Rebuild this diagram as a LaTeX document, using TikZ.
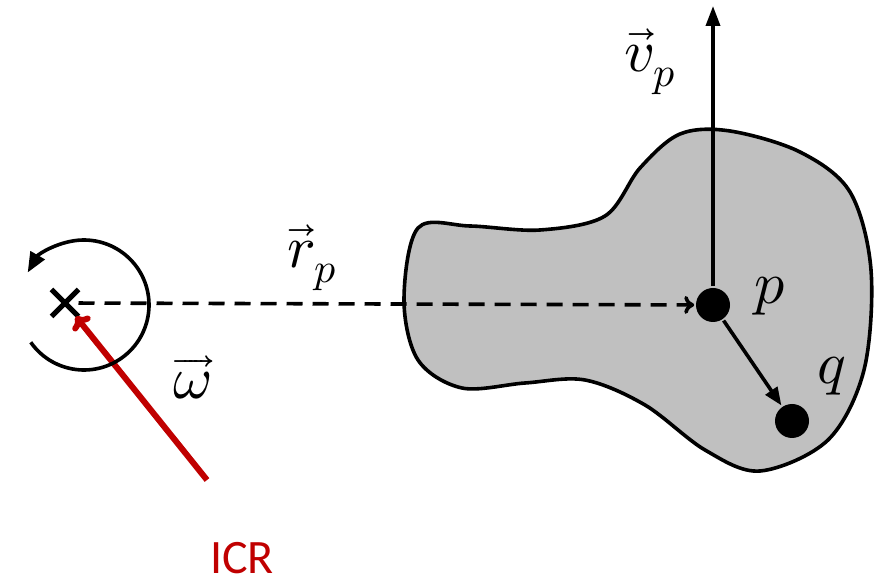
\documentclass[tikz,border=0pt]{standalone}
\usepackage{unicode-math}
\setmathfont{Latin Modern Math}
\newfontfamily\icrfont{Carlito}
\usetikzlibrary{arrows.meta,shapes.misc,positioning}
\definecolor{bodygray}{RGB}{192,192,192}
\definecolor{icrred}{RGB}{192,0,0}

\begin{document}
\begin{tikzpicture}[x=0.5pt,y=-0.5pt,line width=1.8pt,font=\fontsize{30}{36}\selectfont]
\useasboundingbox (0,0) rectangle (877,581);
% rigid body
\draw[fill=bodygray] plot[smooth cycle,tension=0.55] coordinates {
  (418,228) (470,226) (540,230) (605,216) (640,168) (680,134) (730,131)
  (800,152) (850,192) (871,270) (864,370) (828,440) (760,471) (705,450)
  (645,405) (585,380) (525,383) (462,388) (418,360) (404,300)};

\node[cross out,draw,line width=2.5pt,minimum size=11pt,inner sep=0pt] (icr) at (65,303) {};
\node[circle,fill=black,minimum size=17pt,inner sep=0pt] (p) at (713,305) {};
\node[circle,fill=black,minimum size=17pt,inner sep=0pt] (q) at (792,421) {};
\coordinate (spin) at (84,305);
\coordinate (vtip) at (713,6);
\coordinate (icrtail) at (207,480);

\node[inner sep=1pt] (plabel) at (770,296) {$p$};
\node[inner sep=1pt] (qlabel) at (832,376) {$q$};
\node[inner sep=1pt] (vplabel) at (650,62) {$\vec{v}_p$};
\node[inner sep=1pt] (rplabel) at (312,258) {$\vec{r}_p$};
\node[inner sep=1pt] (wlabel) at (192,378) {$\overrightarrow{\omega}$};
\node[text=icrred,inner sep=0pt,font=\icrfont\fontsize{24}{28}\selectfont] (icrlabel) at (242,558) {ICR};

\draw[-{Triangle[length=10pt,width=7pt]}] (p) -- (vtip);
\draw[-{Triangle[length=9pt,width=7pt]}] (p) -- (q);
\draw[dashed,dash pattern=on 8pt off 5pt,-{To[length=5pt,width=9pt]}] (icr) -- (p);
\draw[icrred,line width=3pt,-{To[length=6pt,width=11pt]}] (icrtail) -- (icr);
\draw[-{Triangle[length=10pt,width=8pt]}] ([shift={(145:65)}]spin) arc[start angle=145,end angle=-150,radius=65];
\end{tikzpicture}
\end{document}
